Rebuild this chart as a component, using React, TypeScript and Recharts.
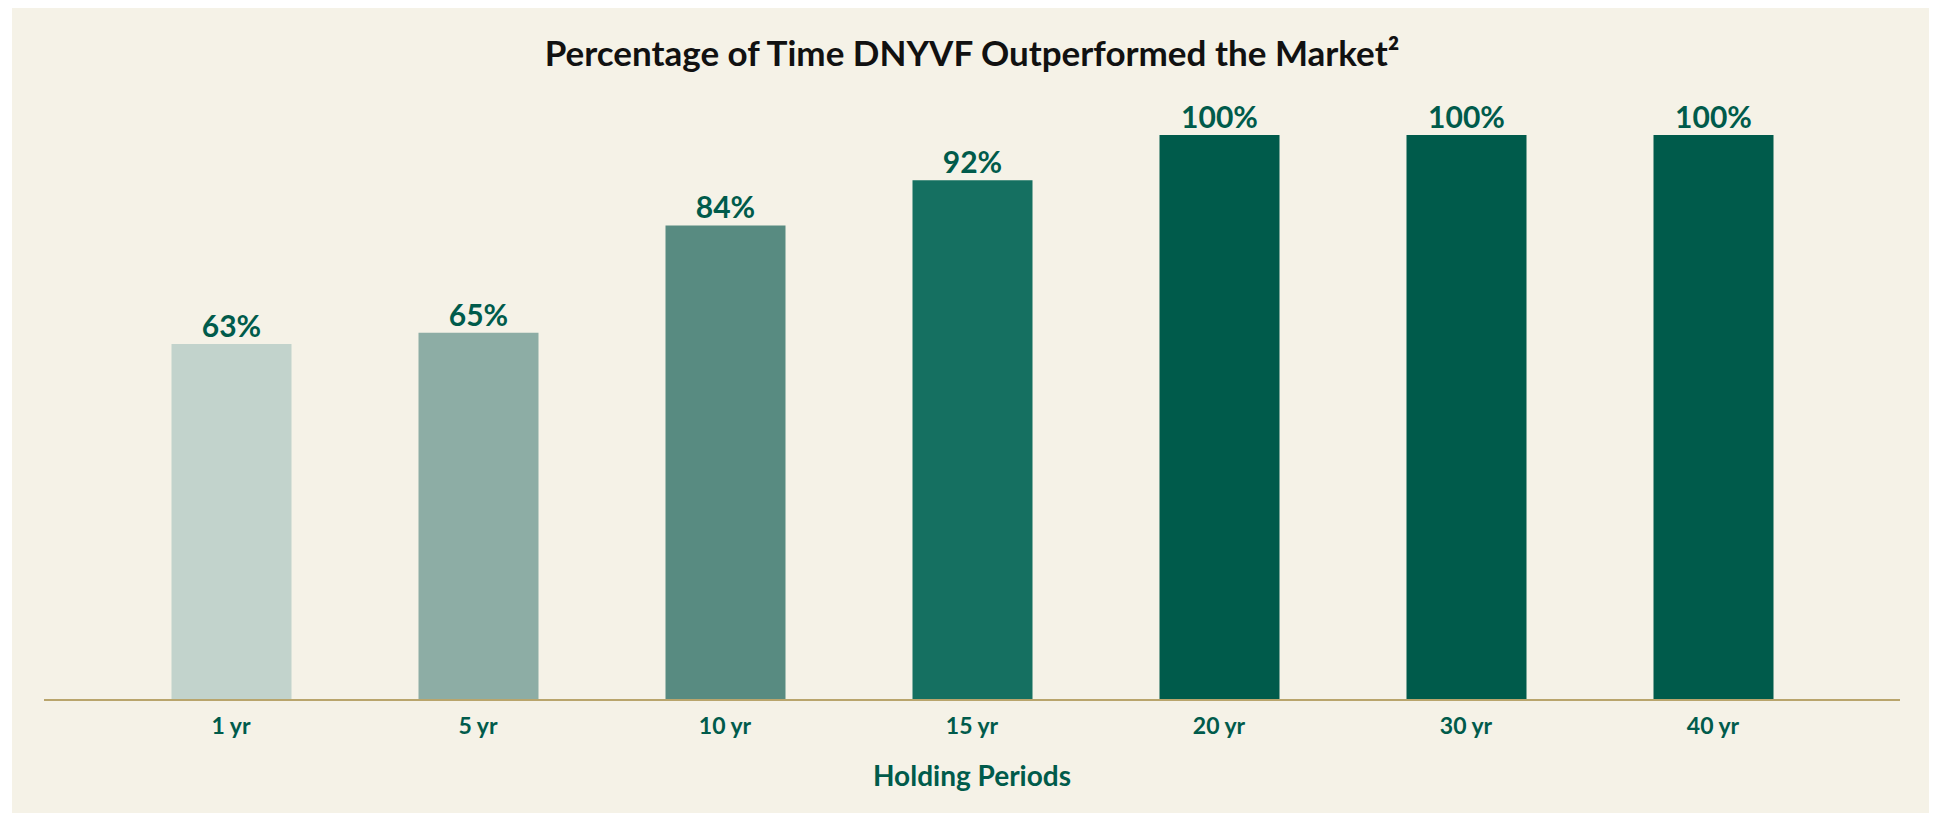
import { BarChart, Bar, XAxis, YAxis, Cell, LabelList } from 'recharts'

// holding periods and share of time the fund beat the market
const periods = ['1 yr', '5 yr', '10 yr', '15 yr', '20 yr', '30 yr', '40 yr']
const outperformPct = [63, 65, 84, 92, 100, 100, 100]

const BAR_COLORS = ['#c2d3cc', '#8dada5', '#588b81', '#157061', '#005b4b', '#005b4b', '#005b4b']
const GREEN = '#005b4b'
const FONT = 'Lato, "Open Sans", sans-serif'

const data = periods.map((p, i) => ({ period: p, pct: outperformPct[i] }))

function PeriodTick({ x, y, payload }: any) {
  return (
    <text x={x} y={y + 34} textAnchor="middle" fill={GREEN} fontSize={23} fontWeight={700} fontFamily={FONT}>
      {payload.value}
    </text>
  )
}

export default function App() {
  return (
    <div style={{ marginLeft: 4, width: 1920, height: 805, background: '#f5f2e7', position: 'relative' }}>
      <div
        style={{
          position: 'absolute', top: 27, left: 0, width: 1920, textAlign: 'center',
          fontFamily: FONT, fontWeight: 700, fontSize: 35, lineHeight: 1, color: '#111',
        }}
      >
        Percentage of Time DNYVF Outperformed the Market²
      </div>
      <BarChart width={1920} height={805} data={data} margin={{ top: 127, right: 32, left: 32, bottom: 0 }}>
        <XAxis
          dataKey="period"
          height={113}
          padding={{ left: 63.5, right: 63.5 }}
          axisLine={{ stroke: '#b9a56c', strokeWidth: 2 }}
          tickLine={false}
          tickSize={0}
          tickMargin={0}
          tick={<PeriodTick />}
          interval={0}
          label={{
            value: 'Holding Periods', position: 'insideBottom', offset: 27,
            fill: GREEN, fontSize: 28, fontWeight: 700, fontFamily: FONT,
          }}
        />
        <YAxis hide domain={[0, 100]} />
        <Bar dataKey="pct" barSize={120} isAnimationActive={false}>
          {data.map((d, i) => (
            <Cell key={d.period} fill={BAR_COLORS[i]} />
          ))}
          <LabelList
            dataKey="pct"
            position="top"
            offset={7}
            formatter={(v: any) => `${v}%`}
            fill={GREEN}
            fontSize={30}
            fontWeight={700}
            fontFamily={FONT}
          />
        </Bar>
      </BarChart>
    </div>
  )
}
